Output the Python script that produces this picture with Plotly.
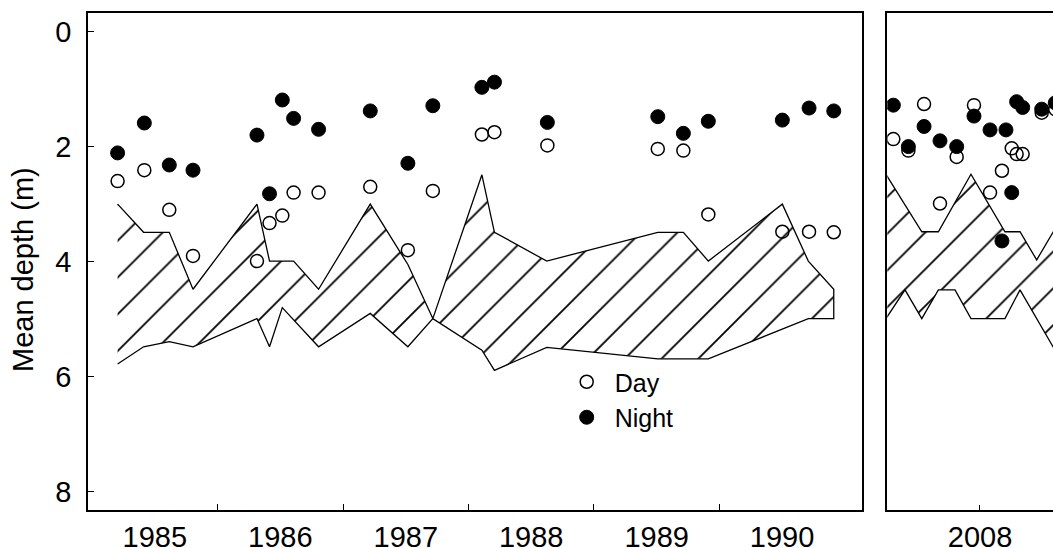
import plotly.graph_objects as go

# ---------------- data: left panel (1985-1990) ----------------
sample_x = [1985.203, 1985.416, 1985.615, 1985.804, 1986.314, 1986.414, 1986.516,
            1986.606, 1986.805, 1987.217, 1987.517, 1987.716, 1988.107, 1988.207,
            1988.629, 1989.509, 1989.713, 1989.912, 1990.502, 1990.715, 1990.912]
day_depth = [2.60, 2.41, 3.10, 3.90, 3.99, 3.33, 3.20, 2.80, 2.80, 2.70, 3.80,
             2.77, 1.79, 1.75, 1.98, 2.04, 2.07, 3.18, 3.48, 3.48, 3.49]
night_depth = [2.11, 1.59, 2.32, 2.41, 1.80, 2.82, 1.19, 1.51, 1.70, 1.38, 2.29,
               1.29, 0.97, 0.88, 1.58, 1.48, 1.77, 1.56, 1.54, 1.33, 1.38]

band_top_x = [1985.203, 1985.410, 1985.615, 1985.804, 1986.314, 1986.414, 1986.606,
              1986.805, 1987.217, 1987.517, 1987.716, 1988.107, 1988.207, 1988.624,
              1989.509, 1989.713, 1989.912, 1990.502, 1990.709, 1990.912]
band_top_depth = [3.00, 3.49, 3.49, 4.48, 3.00, 3.99, 3.99, 4.48, 3.00, 4.05, 4.99,
                  2.49, 3.49, 3.99, 3.49, 3.49, 3.99, 3.00, 3.99, 4.48]
band_bottom_x = [1985.203, 1985.410, 1985.615, 1985.804, 1986.314, 1986.414, 1986.516,
                 1986.805, 1987.217, 1987.517, 1987.716, 1988.107, 1988.207, 1988.624,
                 1989.509, 1989.912, 1990.709, 1990.912]
band_bottom_depth = [5.78, 5.48, 5.39, 5.48, 4.99, 5.48, 4.80, 5.48, 4.90, 5.48, 4.99,
                     5.54, 5.89, 5.49, 5.69, 5.69, 4.99, 4.99]

# ---------------- data: right panel (2007-2008) ----------------
day2_x = [2007.309, 2007.429, 2007.554, 2007.681, 2007.814, 2007.952, 2008.080,
          2008.175, 2008.253, 2008.292, 2008.340, 2008.492, 2008.600]
day2_depth = [1.87, 2.07, 1.26, 2.99, 2.18, 1.28, 2.80, 2.42, 2.03, 2.13, 2.13, 1.41, 1.35]
night2_x = [2007.309, 2007.429, 2007.554, 2007.681, 2007.814, 2007.952, 2008.080,
            2008.175, 2008.207, 2008.253, 2008.292, 2008.340, 2008.492, 2008.600]
night2_depth = [1.28, 2.00, 1.65, 1.90, 2.00, 1.47, 1.71, 3.64, 1.71, 2.80, 1.22, 1.32,
                1.35, 1.24]

band2_top_x = [2007.250, 2007.536, 2007.668, 2007.928, 2008.199, 2008.319, 2008.452,
               2008.582, 2008.606]
band2_top_depth = [2.48, 3.48, 3.48, 2.48, 3.48, 3.48, 3.97, 3.48, 3.40]
band2_bottom_x = [2007.250, 2007.402, 2007.536, 2007.668, 2007.801, 2007.928, 2008.199,
                  2008.319, 2008.582, 2008.606]
band2_bottom_depth = [4.99, 4.49, 4.99, 4.49, 4.49, 4.99, 4.99, 4.49, 5.48, 5.57]

year_ticks = [1985.5, 1986.5, 1987.5, 1988.5, 1989.5, 1990.5]
year_labels = ["1985", "1986", "1987", "1988", "1989", "1990"]
year_bounds = [1986, 1987, 1988, 1989, 1990]
depth_ticks = [0, 2, 4, 6, 8]

FONT = "Liberation Sans, Arial, sans-serif"
pattern = dict(shape="/", size=26, solidity=0.07, fgcolor="black",
               bgcolor="white", fillmode="replace")

fig = go.Figure()

# hatched bands
fig.add_trace(go.Scatter(
    x=band_top_x + band_bottom_x[::-1],
    y=band_top_depth + band_bottom_depth[::-1],
    mode="lines", fill="toself", fillcolor="white", fillpattern=pattern,
    line=dict(color="black", width=1.3), showlegend=False, hoverinfo="skip",
    xaxis="x", yaxis="y"))
fig.add_trace(go.Scatter(
    x=band2_top_x + band2_bottom_x[::-1],
    y=band2_top_depth + band2_bottom_depth[::-1],
    mode="lines", fill="toself", fillcolor="white", fillpattern=pattern,
    line=dict(color="black", width=1.3), showlegend=False, hoverinfo="skip",
    xaxis="x2", yaxis="y2"))

day_marker = dict(symbol="circle", size=13, color="rgba(0,0,0,0)",
                  line=dict(color="black", width=1.5))
night_marker = dict(symbol="circle", size=14, color="black",
                    line=dict(color="black", width=1))

fig.add_trace(go.Scatter(x=sample_x, y=day_depth, mode="markers", name="Day",
                         marker=day_marker, xaxis="x", yaxis="y"))
fig.add_trace(go.Scatter(x=sample_x, y=night_depth, mode="markers", name="Night",
                         marker=night_marker, xaxis="x", yaxis="y"))
fig.add_trace(go.Scatter(x=day2_x, y=day2_depth, mode="markers", name="Day",
                         marker=day_marker, showlegend=False, xaxis="x2", yaxis="y2"))
fig.add_trace(go.Scatter(x=night2_x, y=night2_depth, mode="markers", name="Night",
                         marker=night_marker, showlegend=False, xaxis="x2", yaxis="y2"))

axis_common = dict(showgrid=False, zeroline=False, showline=True, automargin=False,
                   linecolor="black", linewidth=1.6,
                   tickfont=dict(family=FONT, size=29, color="black"))

fig.update_layout(
    width=1053, height=548,
    margin=dict(l=88, r=0, t=13, b=38),
    paper_bgcolor="white", plot_bgcolor="white",
    font=dict(family=FONT, color="black"),
    xaxis=dict(domain=[0, 0.8018], range=[1984.967, 1991.135], anchor="y",
               tickmode="array", tickvals=year_ticks, ticktext=year_labels,
               ticks="", ticklabelstandoff=0, mirror=True,
               minor=dict(tickmode="array", tickvals=year_bounds, ticks="inside",
                          ticklen=6, tickwidth=1.3, tickcolor="black"),
               **axis_common),
    yaxis=dict(domain=[0, 1], range=[8.317, -0.322], anchor="x",
               tickmode="array", tickvals=depth_ticks, ticks="inside",
               ticklen=6, tickwidth=1.3, tickcolor="black",
               ticklabelstandoff=9, mirror=True, **axis_common),
    xaxis2=dict(domain=[0.8283, 1], range=[2007.261, 2008.582], anchor="y2",
                tickmode="array", tickvals=[2008], ticktext=["2008"],
                ticks="inside", ticklen=5, tickwidth=1.3, tickcolor="black",
                ticklabelstandoff=0, mirror=True, **axis_common),
    yaxis2=dict(domain=[0, 1], range=[8.317, -0.322], anchor="x2",
                showticklabels=False, ticks="", mirror=False, **axis_common),
    legend=dict(x=(558.7 - 88) / 965, y=(510 - 359) / 497,
                xanchor="left", yanchor="top", xref="paper", yref="paper",
                bgcolor="rgba(0,0,0,0)", borderwidth=0, itemwidth=46,
                font=dict(family=FONT, size=25, color="black")),
    annotations=[dict(text="Mean depth (m)", textangle=-90, showarrow=False,
                      xref="paper", yref="paper", x=(23 - 88) / 965,
                      y=(548 - 38 - 270) / 497, xanchor="center", yanchor="middle",
                      font=dict(family=FONT, size=29, color="black"))],
)

fig.write_html("out.html",
               config={"displayModeBar": False},
               post_script="document.body.style.margin='0';"
                           "document.body.style.overflow='hidden';")
